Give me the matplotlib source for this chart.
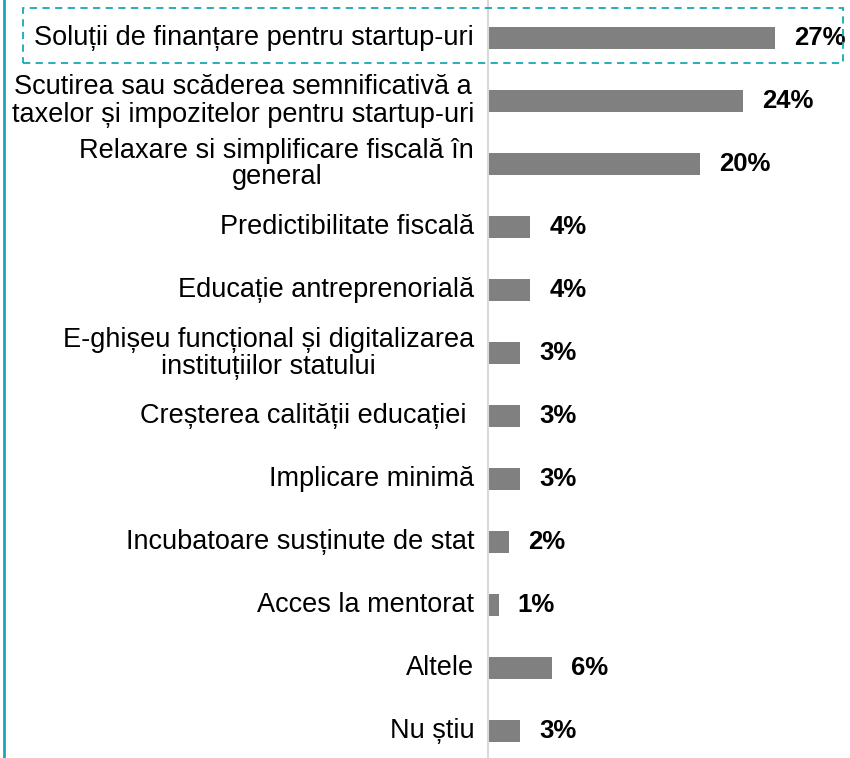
import numpy as np
import matplotlib.pyplot as plt
from matplotlib.patches import Rectangle
from matplotlib.lines import Line2D

categories = [
    u'Soluții de finanțare pentru startup-uri',
    u'Scutirea sau scăderea semnificativă a\ntaxelor și impozitelor pentru startup-uri',
    u'Relaxare si simplificare fiscală în\ngeneral',
    u'Predictibilitate fiscală',
    u'Educație antreprenorială',
    u'E-ghișeu funcțional și digitalizarea\ninstituțiilor statului',
    u'Creșterea calității educației ',
    u'Implicare minimă',
    u'Incubatoare susținute de stat',
    u'Acces la mentorat',
    u'Altele',
    u'Nu știu',
]
values = [27, 24, 20, 4, 4, 3, 3, 3, 2, 1, 6, 3]
labels = ['27%', '24%', '20%', '4%', '4%', '3%', '3%', '3%', '2%', '1%', '6%', '3%']

plt.rcParams['font.family'] = ['Liberation Sans', 'DejaVu Sans']

W, H = 850, 758
fig = plt.figure(figsize=(W / 100., H / 100.), dpi=100)
ax = fig.add_axes([488. / W, 0, 1 - 488. / W, 1])

y = np.arange(len(values))
ax.barh(y, values, height=0.35, color='#808080')
for yi, v, lab in zip(y, values, labels):
    ax.text(v + 1.8, yi, lab, va='center', ha='left', fontsize=18.5,
            fontweight='bold', color='black')
for yi, cat in zip(y, categories):
    ax.text(-1.3, yi, cat, va='center', ha='right', multialignment='center',
            fontsize=19.5, color='black', linespacing=1.05)

ax.set_xlim(0, 34.1)
ax.set_ylim(11 + 27 / 63., -38 / 63.)
ax.set_xticks([])
ax.set_yticks([])
for s in ['top', 'right', 'bottom']:
    ax.spines[s].set_visible(False)
ax.spines['left'].set_color('#d9d9d9')
ax.spines['left'].set_linewidth(1.5)

teal = '#17a8b5'
fig.add_artist(Line2D([3.5 / W, 3.5 / W], [0, 1], color=teal, lw=2,
                      transform=fig.transFigure))
fig.add_artist(Rectangle((23. / W, 1 - 63. / H), 820. / W, 55. / H,
                         fill=False, edgecolor=teal, lw=1.3, linestyle=(0, (4, 3)),
                         transform=fig.transFigure))

plt.savefig('out.png', dpi=100)
